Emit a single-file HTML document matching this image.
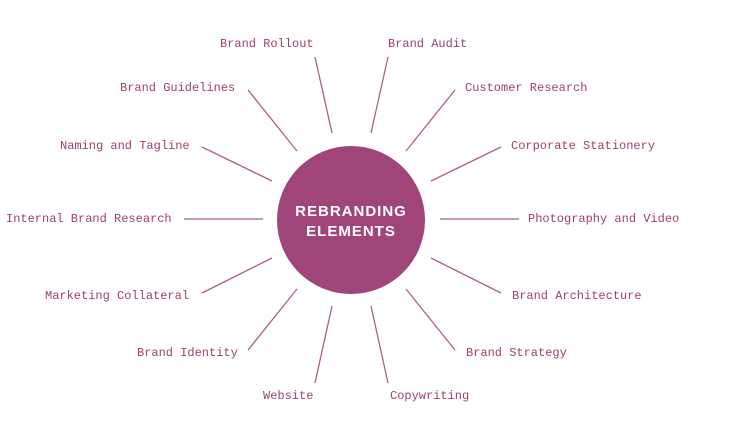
<!DOCTYPE html>
<html><head><style>html,body{margin:0;padding:0;background:#fff}</style></head>
<body>
<svg width="735" height="440" viewBox="0 0 735 440" xmlns="http://www.w3.org/2000/svg">
<g stroke="#a8628a" stroke-width="1.3">
<line x1="315" y1="57" x2="332" y2="133"/>
<line x1="388" y1="57" x2="371" y2="133"/>
<line x1="248" y1="90" x2="297" y2="151"/>
<line x1="455" y1="90" x2="406" y2="151"/>
<line x1="202" y1="147" x2="272" y2="181"/>
<line x1="501" y1="147" x2="431" y2="181"/>
<line x1="184" y1="219" x2="263" y2="219"/>
<line x1="440" y1="219" x2="519" y2="219"/>
<line x1="202" y1="293" x2="272" y2="258"/>
<line x1="501" y1="293" x2="431" y2="258"/>
<line x1="248" y1="350" x2="297" y2="289"/>
<line x1="455" y1="350" x2="406" y2="289"/>
<line x1="315" y1="383" x2="332" y2="306"/>
<line x1="388" y1="383" x2="371" y2="306"/>
</g>
<circle cx="351" cy="220" r="74" fill="#a0457a"/>
<g fill="#fff" font-family="Liberation Sans, sans-serif" font-weight="bold" font-size="15" text-anchor="middle" letter-spacing="1">
<text x="351" y="216">REBRANDING</text>
<text x="351" y="236">ELEMENTS</text>
</g>
<g fill="#9c3f72" font-family="Liberation Mono, monospace" font-size="12" dominant-baseline="middle">
<text x="220" y="44">Brand Rollout</text>
<text x="388" y="44">Brand Audit</text>
<text x="120" y="88">Brand Guidelines</text>
<text x="465" y="88">Customer Research</text>
<text x="60" y="146">Naming and Tagline</text>
<text x="511" y="146">Corporate Stationery</text>
<text x="6" y="219">Internal Brand Research</text>
<text x="528" y="219">Photography and Video</text>
<text x="45" y="296">Marketing Collateral</text>
<text x="512" y="296">Brand Architecture</text>
<text x="137" y="353">Brand Identity</text>
<text x="466" y="353">Brand Strategy</text>
<text x="263" y="396">Website</text>
<text x="390" y="396">Copywriting</text>
</g>
</svg>
</body></html>
